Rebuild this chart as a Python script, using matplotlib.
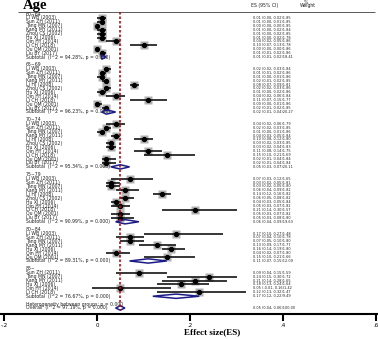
import numpy as np
import matplotlib.pyplot as plt
from matplotlib.patches import Polygon

# ---- Data ----------------------------------------------------------------
groups = ["60~64", "65~69", "70~74", "75~79", "80~84", "85~"]

studies_11 = ["Li WB (2003)", "Sun ZH (2011)", "Tang MN (2007)", "Kang MY (2011)",
              "Li HJ (2008)", "Zhou CS (2002)", "Hu XJ (2006)", "Qin HY (2014)",
              "Li CH (2018)", "Qu QM (2001)", "Liu BY (2017)"]
studies = [
    ["Li WB (2003)", "Sun ZH (2011)", "Tang MN (2007)", "Kang MY (2011)",
     "Zhou CS (2002)", "Hu XJ (2006)", "Qin HY (2014)", "Li CH (2018)",
     "Qu QM (2001)", "Liu BY (2017)"],
    studies_11,
    studies_11,
    studies_11,
    ["Li WB (2003)", "Sun ZH (2011)", "Tang MN (2007)", "Kang MY (2011)",
     "Hu XJ (2006)", "Qin HY (2014)", "Qu QM (2001)"],
    ["Sun ZH (2011)", "Tang MN (2007)", "Kang MY (2011)", "Hu XJ (2006)",
     "Qin HY (2014)", "Li CH (2018)"],
]

es = [
    [0.01, 0.01, 0.00, 0.01, 0.01, 0.01, 0.04, 0.10, 0.00, 0.01],
    [0.02, 0.01, 0.01, 0.02, 0.08, 0.02, 0.01, 0.04, 0.11, 0.00, 0.02],
    [0.04, 0.02, 0.01, 0.04, 0.10, 0.03, 0.03, 0.11, 0.15, 0.02, 0.02],
    [0.07, 0.03, 0.03, 0.06, 0.14, 0.06, 0.04, 0.05, 0.21, 0.05, 0.05],
    [0.17, 0.07, 0.07, 0.13, 0.16, 0.04, 0.15],
    [0.09, 0.24, 0.21, 0.18, 0.05, 0.22],
]
ci_low = [
    [0.00, 0.00, 0.00, 0.00, 0.00, 0.00, 0.02, 0.07, 0.00, 0.01],
    [0.02, 0.01, 0.00, 0.01, 0.07, 0.02, 0.00, 0.02, 0.07, 0.00, 0.01],
    [0.02, 0.02, 0.00, 0.03, 0.08, 0.02, 0.02, 0.08, 0.10, 0.01, 0.01],
    [0.03, 0.02, 0.02, 0.04, 0.12, 0.05, 0.03, 0.03, 0.14, 0.03, 0.03],
    [0.10, 0.04, 0.05, 0.09, 0.14, 0.02, 0.10],
    [0.04, 0.15, 0.14, 0.13, -0.01, 0.13],
]
ci_high = [
    [0.02, 0.01, 0.00, 0.02, 0.02, 0.02, 0.05, 0.13, 0.00, 0.02],
    [0.03, 0.02, 0.01, 0.02, 0.09, 0.03, 0.02, 0.06, 0.15, 0.01, 0.02],
    [0.06, 0.03, 0.01, 0.05, 0.12, 0.03, 0.04, 0.14, 0.21, 0.04, 0.04],
    [0.12, 0.05, 0.05, 0.09, 0.16, 0.08, 0.05, 0.07, 0.30, 0.07, 0.08],
    [0.27, 0.10, 0.10, 0.17, 0.19, 0.07, 0.21],
    [0.15, 0.30, 0.28, 0.24, 0.16, 0.32],
]
weights = [
    [1.85, 1.85, 1.85, 1.84, 1.85, 1.78, 1.86, 1.78, 1.86, 1.86],
    [1.84, 1.86, 1.86, 1.85, 1.81, 1.86, 1.86, 1.84, 1.77, 1.86, 1.85],
    [1.79, 1.85, 1.86, 1.84, 1.80, 1.85, 1.83, 1.75, 1.69, 1.84, 1.84],
    [1.65, 1.81, 1.80, 1.82, 1.82, 1.82, 1.84, 1.82, 1.57, 1.82, 1.80],
    [1.48, 1.78, 1.80, 1.77, 1.80, 1.80, 1.66],
    [1.59, 1.72, 1.65, 1.64, 1.42, 1.47],
]

sub_es = [0.01, 0.02, 0.05, 0.06, 0.11, 0.17]
sub_low = [0.01, 0.01, 0.03, 0.04, 0.07, 0.12]
sub_high = [0.02, 0.04, 0.07, 0.09, 0.15, 0.22]
sub_weight = [18.41, 20.27, 20.11, 19.63, 12.09, 9.49]
sub_i2 = [94.28, 96.23, 95.34, 90.99, 89.31, 76.67]

overall_es, overall_low, overall_high = 0.05, 0.04, 0.06
overall_i2 = 97.19

tick_vals = [-0.2, 0, 0.2, 0.4, 0.6]
tick_labels = ["-.2", "0", ".2", ".4", ".6"]

# ---- Figure setup --------------------------------------------------------
W, H = 378, 339
AX_BOTTOM = 314          # pixel row of the x axis
ROW0, ROWH = 14, 3.92    # first row / row height in pixels
X0, XS = 97, 465         # pixel of ES=0 / pixels per unit

fig = plt.figure(figsize=(W / 100, H / 100), dpi=100)
ax = fig.add_axes([0, (H - AX_BOTTOM) / H, 1, AX_BOTTOM / H])
ax.set_xlim(-X0 / XS, (W - X0) / XS)
ax.set_ylim((AX_BOTTOM - ROW0) / ROWH, -ROW0 / ROWH)


def px(x):
    return (x - X0) / XS


LABEL_X = px(26)
ES_X = px(253)
FS = 3.3
FS_ES = 2.55
TXT = "#202020"
BOX = "#b0b0b0"
NAVY = "#1c1c86"


def diamond(lo, mid, hi, row, h=0.55):
    ax.add_patch(Polygon([(lo, row), (mid, row - h), (hi, row), (mid, row + h)],
                         closed=True, fill=False, edgecolor=NAVY, lw=1.1, zorder=4))


def es_text(row, e, lo, hi, w):
    ax.text(ES_X, row, f"{e:.2f} ({lo:.2f}, {hi:.2f}){w:.2f}",
            fontsize=FS_ES, color=TXT, va="center")


row = 0
for g, name in enumerate(groups):
    ax.text(LABEL_X, row, name, fontsize=FS, color=TXT, va="center")
    row += 1
    for s, study in enumerate(studies[g]):
        e, lo, hi, w = es[g][s], ci_low[g][s], ci_high[g][s], weights[g][s]
        ax.plot(e, row, "s", ms=4.5 * np.sqrt(w), color=BOX, mec="none", zorder=2)
        ax.hlines(row, lo, hi, color="black", lw=1.1, zorder=3)
        ax.plot(e, row, "o", ms=2.8, color="black", zorder=4)
        ax.text(LABEL_X, row, study, fontsize=FS, color=TXT, va="center")
        es_text(row, e, lo, hi, w)
        row += 1
    diamond(sub_low[g], sub_es[g], sub_high[g], row)
    ax.text(LABEL_X, row, f"Subtotal  (I^2 = {sub_i2[g]:.2f}%, p = 0.000)",
            fontsize=FS, color=TXT, va="center")
    es_text(row, sub_es[g], sub_low[g], sub_high[g], sub_weight[g])
    row += 2

ax.text(LABEL_X, row, "Heterogeneity between groups: p = 0.000",
        fontsize=FS, color=TXT, va="center")
row += 1
diamond(overall_low, overall_es, overall_high, row)
ax.text(LABEL_X, row, f"Overall  (I^2 = {overall_i2:.2f}%, p = 0.000)",
        fontsize=FS, color=TXT, va="center")
es_text(row, overall_es, overall_low, overall_high, 100.00)

# reference line at the overall estimate
ax.vlines(overall_es, -0.4, row + 0.6, color="#b01010", lw=1.2,
          linestyles=(0, (1.5, 1.2)), zorder=5)

# header
ax.text(px(23), -2.1, "Age", fontsize=10.5, fontweight="bold",
        family="Liberation Serif", va="center", color="black")
ax.text(px(251), -2.2, "ES (95% CI)", fontsize=FS, color=TXT, va="center")
ax.text(px(304), -3.0, "%", fontsize=FS, color=TXT, va="center")
ax.text(px(300), -2.1, "Weight", fontsize=FS, color=TXT, va="center")
ax.hlines(-0.55, px(18), px(375), color="#404040", lw=0.6)

# ---- Cosmetics -----------------------------------------------------------
for spine in ("top", "left", "right"):
    ax.spines[spine].set_visible(False)
ax.spines["bottom"].set_linewidth(1.5)
ax.set_yticks([])
ax.set_xticks(tick_vals)
ax.set_xticklabels(tick_labels, fontsize=4)
ax.tick_params(axis="x", length=5, width=1.5, pad=1.5)
ax.set_xlabel("Effect size(ES)", fontsize=6.5, fontweight="bold",
              family="Liberation Serif", labelpad=1)
ax.xaxis.set_label_coords(212 / W, -0.045)

fig.savefig("out.png", dpi=100)
